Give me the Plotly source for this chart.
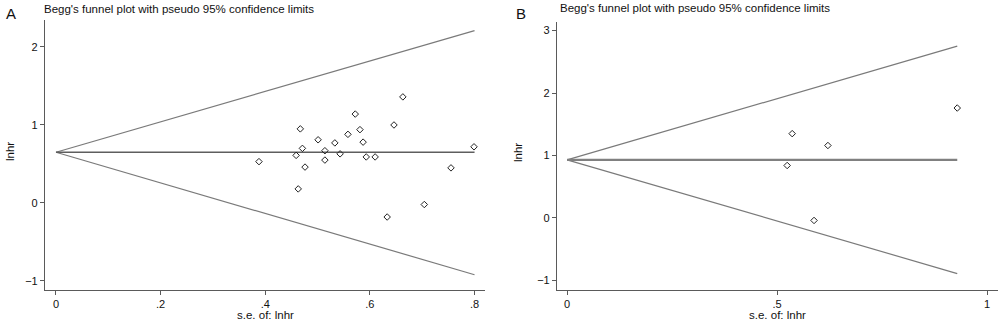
import plotly.graph_objects as go

# ---------------- Data ----------------
# Panel A: study points (standard error, ln hazard ratio)
a_se = [0.388, 0.459, 0.467, 0.471, 0.476, 0.463, 0.501, 0.514, 0.514, 0.533,
        0.543, 0.558, 0.572, 0.581, 0.587, 0.593, 0.610, 0.646, 0.663, 0.633,
        0.704, 0.755, 0.799]
a_lnhr = [0.53, 0.61, 0.95, 0.70, 0.46, 0.18, 0.81, 0.67, 0.55, 0.77,
          0.63, 0.88, 1.14, 0.94, 0.78, 0.59, 0.59, 1.00, 1.36, -0.18,
          -0.02, 0.45, 0.72]
# Panel A: pseudo 95% limits
a_line_se = [0.0, 0.80]
a_center = [0.65, 0.65]
a_upper = [0.65, 2.21]
a_lower = [0.65, -0.92]

# Panel B
b_se = [0.536, 0.621, 0.524, 0.588, 0.929]
b_lnhr = [1.35, 1.16, 0.84, -0.04, 1.76]
b_line_se = [0.0, 0.929]
b_center = [0.93, 0.93]
b_upper = [0.93, 2.75]
b_lower = [0.93, -0.89]

a_xticks = [0, 0.2, 0.4, 0.6, 0.8]
a_xticktext = ["0", ".2", ".4", ".6", ".8"]
a_yticks = [-1, 0, 1, 2]
b_xticks = [0, 0.5, 1]
b_xticktext = ["0", ".5", "1"]
b_yticks = [-1, 0, 1, 2, 3]

title_text = "Begg's funnel plot with pseudo 95% confidence limits"
x_title = "s.e. of: lnhr"
y_title = "lnhr"

FONT = "Liberation Sans, Arial, sans-serif"
LINE_C = "#7a7a7a"
AX_C = "#5a5a5a"

fig = go.Figure()

def add_panel(se, y, lse, cen, up, lo, xa, ya, cen_w, cen_c):
    for yy in (up, lo):
        fig.add_trace(go.Scatter(x=lse, y=yy, mode="lines", xaxis=xa, yaxis=ya,
                                 line=dict(color=LINE_C, width=1.2), showlegend=False,
                                 hoverinfo="skip"))
    fig.add_trace(go.Scatter(x=lse, y=cen, mode="lines", xaxis=xa, yaxis=ya,
                             line=dict(color=cen_c, width=cen_w), showlegend=False,
                             hoverinfo="skip"))
    fig.add_trace(go.Scatter(x=se, y=y, mode="markers", xaxis=xa, yaxis=ya,
                             marker=dict(symbol="diamond-open", size=5,
                                         color="#222222", line=dict(width=1)),
                             showlegend=False))

add_panel(a_se, a_lnhr, a_line_se, a_center, a_upper, a_lower, "x", "y", 1.3, "#5e5e5e")
add_panel(b_se, b_lnhr, b_line_se, b_center, b_upper, b_lower, "x2", "y2", 2.2, "#808080")

axis_common = dict(showgrid=False, zeroline=False, showline=True, linecolor=AX_C,
                   linewidth=1.2, ticks="outside", ticklen=4, tickcolor=AX_C,
                   tickwidth=1, tickfont=dict(family=FONT, size=11, color="#111"))

fig.update_layout(
    width=1000, height=320,
    margin=dict(l=0, r=0, t=0, b=0),
    paper_bgcolor="white", plot_bgcolor="white",
    xaxis=dict(domain=[0.045, 0.485], range=[-0.021, 0.820], anchor="y",
               tickvals=a_xticks, ticktext=a_xticktext, **axis_common),
    yaxis=dict(domain=[0.094, 0.9375], range=[-1.115, 2.346], anchor="x",
               tickvals=a_yticks, **axis_common),
    xaxis2=dict(domain=[0.557, 0.998], range=[-0.024, 1.026], anchor="y2",
                tickvals=b_xticks, ticktext=b_xticktext, **axis_common),
    yaxis2=dict(domain=[0.094, 0.931], range=[-1.152, 3.136], anchor="x2",
                tickvals=b_yticks, **axis_common),
)

ann_font = dict(family=FONT, size=11.5, color="#111")
annotations = [
    dict(text="A", x=0.004, y=1 - 13 / 320, xref="paper", yref="paper", xanchor="left",
         yanchor="middle", showarrow=False, font=dict(family=FONT, size=15, color="#111")),
    dict(text="B", x=0.514, y=1 - 14 / 320, xref="paper", yref="paper", xanchor="left",
         yanchor="middle", showarrow=False, font=dict(family=FONT, size=15, color="#111")),
    dict(text=title_text, x=0.042, y=1 - 9 / 320, xref="paper", yref="paper", xanchor="left",
         yanchor="middle", showarrow=False, font=dict(family=FONT, size=11.5, color="#111")),
    dict(text=title_text, x=0.558, y=1 - 8 / 320, xref="paper", yref="paper", xanchor="left",
         yanchor="middle", showarrow=False, font=dict(family=FONT, size=11.5, color="#111")),
    dict(text=x_title, x=0.265, y=1 - 314.5 / 320, xref="paper", yref="paper", xanchor="center",
         yanchor="middle", showarrow=False, font=ann_font),
    dict(text=x_title, x=0.777, y=1 - 314.5 / 320, xref="paper", yref="paper", xanchor="center",
         yanchor="middle", showarrow=False, font=ann_font),
    dict(text=y_title, x=0.010, y=1 - 152 / 320, xref="paper", yref="paper", xanchor="center",
         yanchor="middle", showarrow=False, textangle=-90, font=ann_font),
    dict(text=y_title, x=0.518, y=1 - 153 / 320, xref="paper", yref="paper", xanchor="center",
         yanchor="middle", showarrow=False, textangle=-90, font=ann_font),
]
fig.update_layout(annotations=annotations)

fig.write_html("out.html", config={"displayModeBar": False},
               post_script="document.body.style.margin='0';document.body.style.overflow='hidden';")
